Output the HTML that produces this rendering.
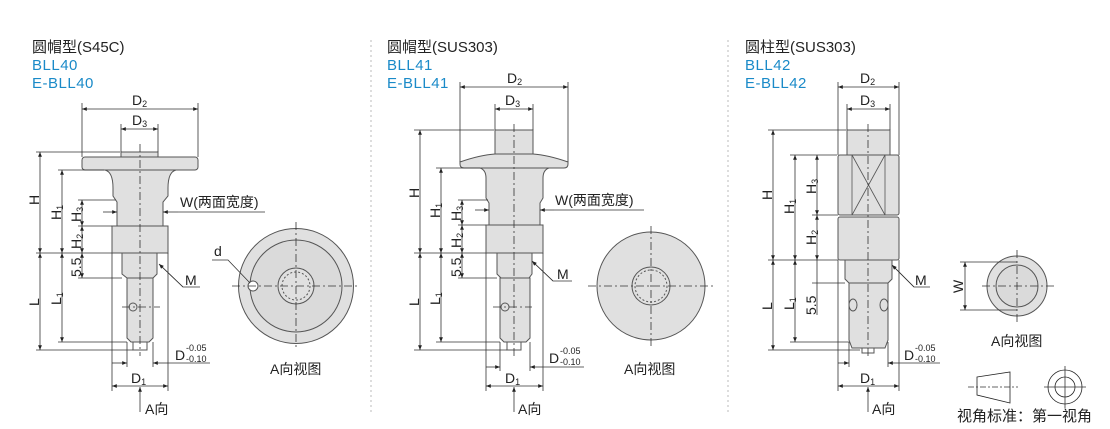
<!DOCTYPE html>
<html><head><meta charset="utf-8"><style>
html,body{margin:0;padding:0;background:#fff;}
svg{display:block;}
text{font-family:"Liberation Sans","Noto Sans CJK SC",sans-serif;fill:#222;}
.t{font-size:15px;}
.b{font-size:15px;fill:#1a8ac8;letter-spacing:0.5px;}
.d{font-size:14px;}
.s{font-size:9px;}
</style></head><body>
<svg width="1110" height="429" viewBox="0 0 1110 429" xmlns="http://www.w3.org/2000/svg">
<defs>
<marker id="a" viewBox="0 0 10 10" refX="10" refY="5" markerWidth="8" markerHeight="6" orient="auto-start-reverse"><path d="M0,1 L10,5 L0,9 z" fill="#222"/></marker>
</defs>
<g stroke="#bbb" stroke-dasharray="2,3" stroke-width="1"><line x1="371" y1="40" x2="371" y2="415"/><line x1="728" y1="40" x2="728" y2="415"/></g>

<text class="t" x="32" y="52">圆帽型(S45C)</text><text class="b" x="32" y="70">BLL40</text><text class="b" x="32" y="88">E-BLL40</text>
<text class="t" x="387" y="52">圆帽型(SUS303)</text><text class="b" x="387" y="70">BLL41</text><text class="b" x="387" y="88">E-BLL41</text>
<text class="t" x="745" y="52">圆柱型(SUS303)</text><text class="b" x="745" y="70">BLL42</text><text class="b" x="745" y="88">E-BLL42</text>

<g fill="#e0e0e0" stroke="#555" stroke-width="1">
<rect x="121" y="152" width="37" height="6"/>
<rect x="82" y="157" width="116" height="13" rx="3"/>
<path d="M105,170 Q113,172 113,188 L113,196 L117,202 L117,226 L163,226 L163,202 L168,196 L168,188 Q168,172 176,170 Z"/>
<rect x="112" y="226" width="56" height="27"/>
<path d="M122,253 L122,274 L127,278 L153,278 L157,274 L157,253 Z"/>
<path d="M127,278 L127,338 L131,342 L149,342 L153,338 L153,278 Z"/>
<rect x="133" y="342" width="14" height="8" fill="#fff"/>
<circle cx="133" cy="307" r="4"/>
<circle cx="296" cy="286" r="57.5"/>
<circle cx="296" cy="286" r="46" fill="#dadada"/>
<circle cx="296" cy="286" r="18"/>
<circle cx="296" cy="286" r="14" fill="none" stroke-dasharray="2,2"/>
<circle cx="253" cy="286" r="5" fill="#fff"/>

<rect x="495" y="130" width="38" height="24"/>
<path d="M460,162 Q480,155 495,154 L533,154 Q548,155 568,162 L568,164 Q568,168 564,168 L464,168 Q460,168 460,164 Z"/>
<path d="M480,168 Q486,170 486,178 L486,198 L489,203 L489,225 L540,225 L540,203 L543,198 L543,178 Q543,170 549,168 Z"/>
<rect x="486" y="225" width="57" height="28"/>
<path d="M497,253 L497,274 L501,278 L529,278 L532,274 L532,253 Z"/>
<path d="M500,278 L500,338 L504,342 L526,342 L530,338 L530,278 Z"/>
<rect x="507" y="342" width="14" height="8" fill="#fff"/>
<circle cx="505" cy="307" r="4"/>
<circle cx="651" cy="286" r="54"/>
<circle cx="651" cy="286" r="19"/>
<circle cx="651" cy="286" r="16" fill="none" stroke-dasharray="2,2"/>

<rect x="847" y="130" width="43" height="25"/>
<rect x="838" y="155" width="61" height="60" rx="2"/>
<rect x="838" y="217" width="61" height="43" rx="2"/>
<path d="M845,260 L845,279 L849,283 L888,283 L892,279 L892,260 Z"/>
<path d="M849,283 L849,340 L852,348 L885,348 L888,340 L888,283 Z"/>
<rect x="862" y="348" width="12" height="5" fill="#fff"/>
<ellipse cx="853" cy="305" rx="4" ry="6"/><ellipse cx="884" cy="305" rx="4" ry="6"/>
<circle cx="1017" cy="286" r="30"/>
<circle cx="1017" cy="286" r="21" fill="#dadada"/>
</g>
<g stroke="#555" stroke-width="0.8" fill="none">
<line x1="852" y1="155" x2="852" y2="215"/><line x1="885" y1="155" x2="885" y2="215"/>
<line x1="852" y1="155" x2="885" y2="215"/><line x1="885" y1="155" x2="852" y2="215"/>
</g>

<g stroke="#333" stroke-width="0.8" stroke-dasharray="8,3,2,3" fill="none">
<line x1="140" y1="144" x2="140" y2="356"/><line x1="514" y1="124" x2="514" y2="356"/><line x1="868" y1="124" x2="868" y2="356"/>
<line x1="232" y1="286" x2="360" y2="286"/><line x1="296" y1="222" x2="296" y2="350"/>
<line x1="588" y1="286" x2="714" y2="286"/><line x1="651" y1="226" x2="651" y2="346"/>
<line x1="982" y1="286" x2="1054" y2="286"/><line x1="1017" y1="250" x2="1017" y2="322"/>
<line x1="122" y1="307" x2="160" y2="307"/><line x1="493" y1="307" x2="532" y2="307"/>
</g>

<g stroke="#333" stroke-width="0.8" fill="none">
<line x1="82" y1="103" x2="82" y2="157"/><line x1="198" y1="103" x2="198" y2="157"/>
<line x1="121" y1="124" x2="121" y2="152"/><line x1="158" y1="124" x2="158" y2="152"/>
<line x1="36" y1="152" x2="120" y2="152"/><line x1="58" y1="170" x2="104" y2="170"/>
<line x1="78" y1="200" x2="116" y2="200"/><line x1="78" y1="226" x2="112" y2="226"/>
<line x1="36" y1="253" x2="112" y2="253"/><line x1="78" y1="278" x2="122" y2="278"/>
<line x1="58" y1="342" x2="127" y2="342"/><line x1="36" y1="350" x2="133" y2="350"/>
<line x1="112" y1="253" x2="112" y2="391"/><line x1="168" y1="253" x2="168" y2="391"/>
<line x1="127" y1="342" x2="127" y2="367"/><line x1="153" y1="342" x2="153" y2="367"/>
<line x1="82" y1="109" x2="198" y2="109" marker-start="url(#a)" marker-end="url(#a)"/>
<line x1="121" y1="129" x2="158" y2="129" marker-start="url(#a)" marker-end="url(#a)"/>
<line x1="40" y1="152" x2="40" y2="253" marker-start="url(#a)" marker-end="url(#a)"/>
<line x1="62" y1="170" x2="62" y2="253" marker-start="url(#a)" marker-end="url(#a)"/>
<line x1="82" y1="200" x2="82" y2="226" marker-start="url(#a)" marker-end="url(#a)"/>
<line x1="82" y1="226" x2="82" y2="253" marker-start="url(#a)" marker-end="url(#a)"/>
<line x1="82" y1="253" x2="82" y2="278" marker-start="url(#a)" marker-end="url(#a)"/>
<line x1="40" y1="253" x2="40" y2="350" marker-start="url(#a)" marker-end="url(#a)"/>
<line x1="62" y1="253" x2="62" y2="342" marker-start="url(#a)" marker-end="url(#a)"/>
<line x1="112" y1="386" x2="168" y2="386" marker-start="url(#a)" marker-end="url(#a)"/>
<line x1="112" y1="363" x2="127" y2="363" marker-end="url(#a)"/><line x1="168" y1="363" x2="153" y2="363" marker-end="url(#a)"/><line x1="168" y1="363" x2="210" y2="363"/>
<line x1="103" y1="212" x2="117" y2="212" marker-end="url(#a)"/><line x1="178" y1="212" x2="163" y2="212" marker-end="url(#a)"/><line x1="178" y1="212" x2="265" y2="212"/>
<polyline points="200,287 183,287 160,265"/><line x1="183" y1="287" x2="159" y2="264" marker-end="url(#a)"/>
<polyline points="212,260 228,260 250,283"/>
<line x1="140" y1="412" x2="140" y2="387" marker-end="url(#a)"/>

<line x1="460" y1="82" x2="460" y2="162"/><line x1="568" y1="82" x2="568" y2="162"/>
<line x1="495" y1="104" x2="495" y2="130"/><line x1="533" y1="104" x2="533" y2="130"/>
<line x1="414" y1="130" x2="494" y2="130"/><line x1="436" y1="168" x2="480" y2="168"/>
<line x1="458" y1="200" x2="488" y2="200"/><line x1="458" y1="225" x2="486" y2="225"/>
<line x1="414" y1="253" x2="486" y2="253"/><line x1="458" y1="278" x2="497" y2="278"/>
<line x1="436" y1="342" x2="500" y2="342"/><line x1="414" y1="350" x2="507" y2="350"/>
<line x1="486" y1="253" x2="486" y2="391"/><line x1="543" y1="253" x2="543" y2="391"/>
<line x1="500" y1="342" x2="500" y2="371"/><line x1="530" y1="342" x2="530" y2="371"/>
<line x1="460" y1="87" x2="568" y2="87" marker-start="url(#a)" marker-end="url(#a)"/>
<line x1="495" y1="109" x2="533" y2="109" marker-start="url(#a)" marker-end="url(#a)"/>
<line x1="420" y1="130" x2="420" y2="253" marker-start="url(#a)" marker-end="url(#a)"/>
<line x1="441" y1="168" x2="441" y2="253" marker-start="url(#a)" marker-end="url(#a)"/>
<line x1="462" y1="200" x2="462" y2="225" marker-start="url(#a)" marker-end="url(#a)"/>
<line x1="462" y1="225" x2="462" y2="253" marker-start="url(#a)" marker-end="url(#a)"/>
<line x1="462" y1="253" x2="462" y2="278" marker-start="url(#a)" marker-end="url(#a)"/>
<line x1="420" y1="253" x2="420" y2="350" marker-start="url(#a)" marker-end="url(#a)"/>
<line x1="441" y1="253" x2="441" y2="342" marker-start="url(#a)" marker-end="url(#a)"/>
<line x1="486" y1="386" x2="543" y2="386" marker-start="url(#a)" marker-end="url(#a)"/>
<line x1="486" y1="367" x2="500" y2="367" marker-end="url(#a)"/><line x1="543" y1="367" x2="530" y2="367" marker-end="url(#a)"/><line x1="543" y1="367" x2="584" y2="367"/>
<line x1="475" y1="210" x2="489" y2="210" marker-end="url(#a)"/><line x1="554" y1="210" x2="540" y2="210" marker-end="url(#a)"/><line x1="554" y1="210" x2="644" y2="210"/>
<polyline points="572,281 553,281 533,262"/><line x1="553" y1="281" x2="532" y2="261" marker-end="url(#a)"/>
<line x1="514" y1="412" x2="514" y2="387" marker-end="url(#a)"/>

<line x1="838" y1="82" x2="838" y2="155"/><line x1="899" y1="82" x2="899" y2="155"/>
<line x1="847" y1="104" x2="847" y2="130"/><line x1="890" y1="104" x2="890" y2="130"/>
<line x1="768" y1="130" x2="846" y2="130"/><line x1="790" y1="155" x2="837" y2="155"/>
<line x1="812" y1="215" x2="838" y2="215"/><line x1="768" y1="260" x2="838" y2="260"/>
<line x1="812" y1="283" x2="845" y2="283"/><line x1="790" y1="342" x2="849" y2="342"/><line x1="768" y1="350" x2="860" y2="350"/>
<line x1="838" y1="260" x2="838" y2="391"/><line x1="899" y1="260" x2="899" y2="391"/>
<line x1="849" y1="342" x2="849" y2="367"/><line x1="888" y1="342" x2="888" y2="367"/>
<line x1="838" y1="87" x2="899" y2="87" marker-start="url(#a)" marker-end="url(#a)"/>
<line x1="847" y1="109" x2="890" y2="109" marker-start="url(#a)" marker-end="url(#a)"/>
<line x1="773" y1="130" x2="773" y2="260" marker-start="url(#a)" marker-end="url(#a)"/>
<line x1="795" y1="155" x2="795" y2="260" marker-start="url(#a)" marker-end="url(#a)"/>
<line x1="817" y1="155" x2="817" y2="215" marker-start="url(#a)" marker-end="url(#a)"/>
<line x1="817" y1="215" x2="817" y2="260" marker-start="url(#a)" marker-end="url(#a)"/>
<line x1="817" y1="260" x2="817" y2="315"/>
<line x1="773" y1="260" x2="773" y2="350" marker-start="url(#a)" marker-end="url(#a)"/>
<line x1="795" y1="260" x2="795" y2="342" marker-start="url(#a)" marker-end="url(#a)"/>
<line x1="838" y1="386" x2="899" y2="386" marker-start="url(#a)" marker-end="url(#a)"/>
<line x1="838" y1="363" x2="849" y2="363" marker-end="url(#a)"/><line x1="899" y1="363" x2="888" y2="363" marker-end="url(#a)"/><line x1="899" y1="363" x2="940" y2="363"/>
<polyline points="930,287 914,287 893,266"/><line x1="914" y1="287" x2="892" y2="265" marker-end="url(#a)"/>
<line x1="868" y1="412" x2="868" y2="387" marker-end="url(#a)"/>
<line x1="960" y1="262" x2="1017" y2="262"/><line x1="960" y1="310" x2="1017" y2="310"/>
<line x1="965" y1="262" x2="965" y2="310" marker-start="url(#a)" marker-end="url(#a)"/>
<path d="M977,377 L1010,372 L1010,403 L977,395 Z" stroke="#222"/>
<line x1="968" y1="387" x2="1018" y2="387" stroke-dasharray="6,2,2,2"/>
<circle cx="1065" cy="387" r="17" stroke="#222"/><circle cx="1065" cy="387" r="10" stroke="#222"/>
<line x1="1044" y1="387" x2="1086" y2="387"/><line x1="1065" y1="366" x2="1065" y2="408"/>
</g>

<g class="d">
<text x="132" y="105">D<tspan class="s" dy="2">2</tspan></text>
<text x="132" y="125">D<tspan class="s" dy="2">3</tspan></text>
<text x="507" y="83">D<tspan class="s" dy="2">2</tspan></text>
<text x="505" y="105">D<tspan class="s" dy="2">3</tspan></text>
<text x="860" y="83">D<tspan class="s" dy="2">2</tspan></text>
<text x="860" y="105">D<tspan class="s" dy="2">3</tspan></text>
<text x="131" y="383">D<tspan class="s" dy="2">1</tspan></text>
<text x="505" y="383">D<tspan class="s" dy="2">1</tspan></text>
<text x="860" y="383">D<tspan class="s" dy="2">1</tspan></text>
<text x="175" y="360">D</text><text class="s" x="186" y="351">-0.05</text><text class="s" x="186" y="362">-0.10</text>
<text x="549" y="363">D</text><text class="s" x="560" y="354">-0.05</text><text class="s" x="560" y="365">-0.10</text>
<text x="904" y="360">D</text><text class="s" x="915" y="351">-0.05</text><text class="s" x="915" y="362">-0.10</text>
<text x="180" y="207">W(两面宽度)</text>
<text x="555" y="205">W(两面宽度)</text>
<text x="185" y="285">M</text><text x="557" y="279">M</text><text x="915" y="285">M</text>
<text x="214" y="256">d</text>
<text x="145" y="414">A向</text><text x="518" y="414">A向</text><text x="872" y="414">A向</text>
<text x="270" y="374">A向视图</text><text x="624" y="374">A向视图</text><text x="991" y="346">A向视图</text>
<text x="957" y="421" style="font-size:15px">视角标准：第一视角</text>
</g>
<g class="d">
<text transform="translate(39,205) rotate(-90)">H</text>
<text transform="translate(61,220) rotate(-90)">H<tspan class="s" dy="2">1</tspan></text>
<text transform="translate(81,222) rotate(-90)">H<tspan class="s" dy="2">3</tspan></text>
<text transform="translate(81,249) rotate(-90)">H<tspan class="s" dy="2">2</tspan></text>
<text transform="translate(81,277) rotate(-90)">5.5</text>
<text transform="translate(39,306) rotate(-90)">L</text>
<text transform="translate(61,305) rotate(-90)">L<tspan class="s" dy="2">1</tspan></text>
<text transform="translate(419,198) rotate(-90)">H</text>
<text transform="translate(440,218) rotate(-90)">H<tspan class="s" dy="2">1</tspan></text>
<text transform="translate(461,221) rotate(-90)">H<tspan class="s" dy="2">3</tspan></text>
<text transform="translate(461,248) rotate(-90)">H<tspan class="s" dy="2">2</tspan></text>
<text transform="translate(461,277) rotate(-90)">5.5</text>
<text transform="translate(419,306) rotate(-90)">L</text>
<text transform="translate(440,305) rotate(-90)">L<tspan class="s" dy="2">1</tspan></text>
<text transform="translate(772,200) rotate(-90)">H</text>
<text transform="translate(794,214) rotate(-90)">H<tspan class="s" dy="2">1</tspan></text>
<text transform="translate(816,194) rotate(-90)">H<tspan class="s" dy="2">3</tspan></text>
<text transform="translate(816,245) rotate(-90)">H<tspan class="s" dy="2">2</tspan></text>
<text transform="translate(816,315) rotate(-90)">5.5</text>
<text transform="translate(772,310) rotate(-90)">L</text>
<text transform="translate(794,310) rotate(-90)">L<tspan class="s" dy="2">1</tspan></text>
<text transform="translate(963,293) rotate(-90)">W</text>
</g>
</svg>
</body></html>
